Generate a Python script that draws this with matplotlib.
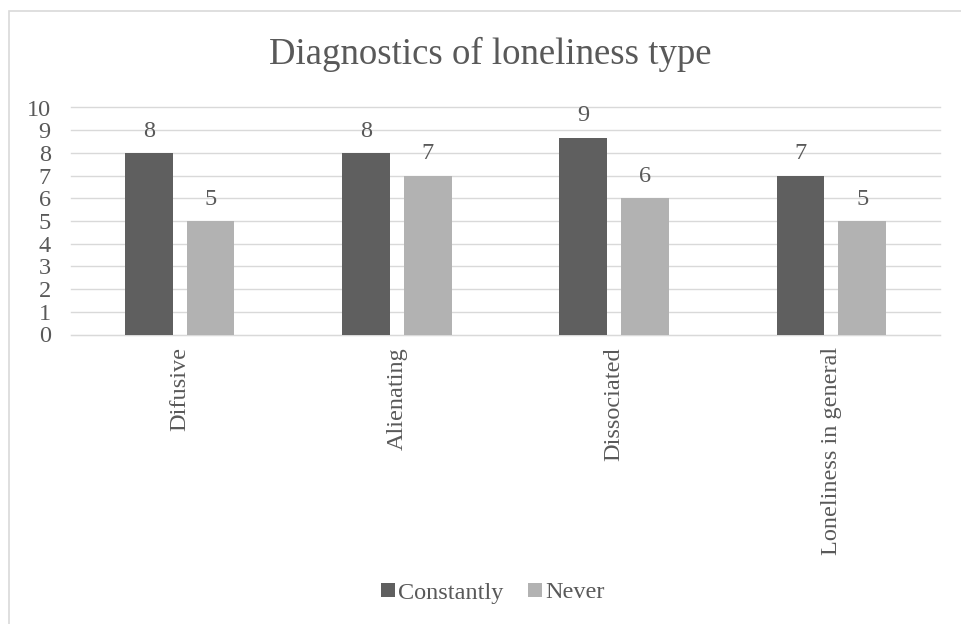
import numpy as np
import matplotlib
matplotlib.use('Agg')
import matplotlib.pyplot as plt
from matplotlib.patches import Rectangle

categories = ['Difusive', 'Alienating', 'Dissociated', 'Loneliness in general']
constantly = [8, 8, 8.67, 7]
never = [5, 7, 6, 5]
series_names = ['Constantly', 'Never']

plt.rc('font', family='Liberation Serif')

dark = '#5f5f5f'
light = '#b2b2b2'
text_col = '#595959'
grid_col = '#d9d9d9'
fs = 17.5

fig = plt.figure(figsize=(9.61, 6.24), dpi=100)
ax = fig.add_axes([71/961, 1-334.5/624, (940-71)/961, (334.5-107.5)/624])

x = np.arange(len(categories))
w = 0.22
off = 0.142
b1 = ax.bar(x - off, constantly, w, color=dark, label=series_names[0], zorder=3)
b2 = ax.bar(x + off, never, w, color=light, label=series_names[1], zorder=3)

# value labels, rounded like the original
for bars, vals in [(b1, constantly), (b2, never)]:
    for r, v in zip(bars, vals):
        ax.text(r.get_x() + r.get_width()/2, v + 0.5, '%d' % round(v),
                ha='center', va='bottom', fontsize=fs, color=text_col)

ax.set_xlim(-0.5, 3.5)
ax.set_ylim(0, 10)
ax.set_yticks(range(11))
ax.yaxis.grid(True, color=grid_col, linewidth=1, zorder=0)
for gl in ax.get_ygridlines():
    gl.set_clip_on(False)
ax.set_axisbelow(True)
for s in ['top', 'right', 'left']:
    ax.spines[s].set_visible(False)
ax.spines['bottom'].set_color(grid_col)
ax.tick_params(axis='both', length=0, labelsize=fs, colors=text_col)
ax.tick_params(axis='y', pad=14.5)
ax.tick_params(axis='x', pad=9)
ax.set_xticks(x)
ax.set_xticklabels(categories, rotation=90, va='top')

fig.text(490/961, 1-54/624, 'Diagnostics of loneliness type', ha='center', va='center',
         fontsize=26.5, color=text_col)

fig.legend(loc='center', bbox_to_anchor=(493/961, 1-593/624), ncol=2, frameon=False,
           fontsize=fs, labelcolor=text_col, handlelength=0.55, handleheight=0.55,
           handletextpad=0.15, columnspacing=1.0)

# chart border (only top/left edges visible in the original)
fig.patches.append(Rectangle((9/961, -0.1), 1.2, 1-11/624+0.1, transform=fig.transFigure,
                             fill=False, edgecolor='#d9d9d9', linewidth=1.2))

fig.savefig('out.png', dpi=100)
